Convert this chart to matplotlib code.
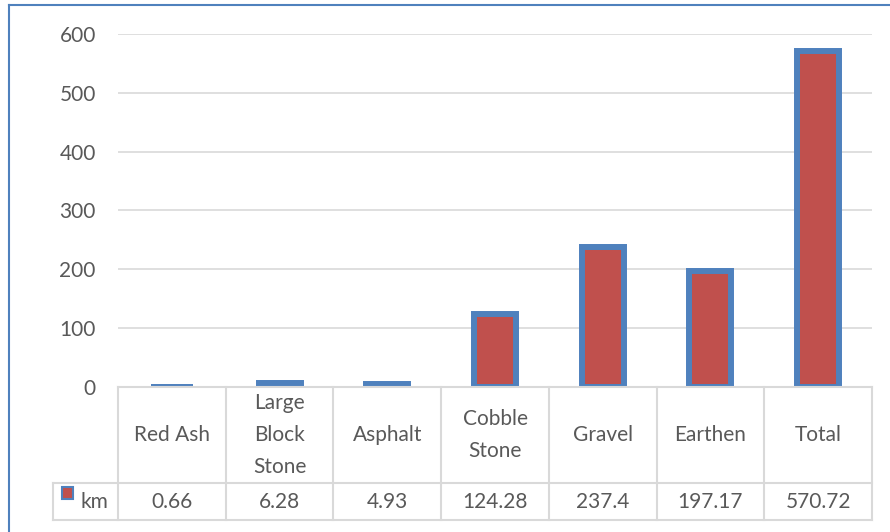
import matplotlib.pyplot as plt
from matplotlib.lines import Line2D
from matplotlib.patches import Rectangle

categories = ["Red Ash", "Large\nBlock\nStone", "Asphalt", "Cobble\nStone", "Gravel", "Earthen", "Total"]
km = [0.66, 6.28, 4.93, 124.28, 237.4, 197.17, 570.72]
value_labels = ["0.66", "6.28", "4.93", "124.28", "237.4", "197.17", "570.72"]
series_name = "km"
yticks = [0, 100, 200, 300, 400, 500, 600]

W, H = 890, 532
red = "#c0504d"
blue = "#4f81bd"
grey_txt = "#595959"
grid_c = "#d9d9d9"
plt.rcParams['font.family'] = ['Lato', 'DejaVu Sans']
fs = 15

fig = plt.figure(figsize=(W / 100, H / 100), dpi=100)

# plot area in pixels
x0, x1 = 118, 872
y_top, y_zero = 34, 387
ax = fig.add_axes([x0 / W, (H - y_zero) / H, (x1 - x0) / W, (y_zero - y_top) / H])
n = len(categories)
xs = list(range(n))
ax.bar(xs, km, width=0.39, color=red, edgecolor=blue, linewidth=4.3,
       joinstyle="miter", zorder=3)
ax.set_xlim(-0.5, n - 0.5)
ax.set_ylim(0, 600)
ax.set_yticks(yticks)
ax.set_yticklabels([str(t) for t in yticks], fontsize=fs, color=grey_txt)
ax.tick_params(axis="y", length=0, pad=16)
ax.set_xticks([])
ax.grid(axis="y", color=grid_c, linewidth=1.2, zorder=0)
for s in ax.spines.values():
    s.set_visible(False)

# overlay for table + border, in pixel units
ov = fig.add_axes([0, 0, 1, 1])
ov.set_xlim(0, W)
ov.set_ylim(H, 0)
ov.axis("off")

col_w = (x1 - x0) / n
lx = 53
row_mid = 483
row_bot = 520
lc = "#d9d9d9"
ov.add_line(Line2D([x0, x1], [y_zero, y_zero], color=lc, lw=1.5))
ov.add_line(Line2D([lx, x1], [row_mid, row_mid], color=lc, lw=1.5))
ov.add_line(Line2D([lx, x1], [row_bot, row_bot], color=lc, lw=1.5))
ov.add_line(Line2D([lx, lx], [row_mid, row_bot], color=lc, lw=1.5))
for i in range(n + 1):
    xc = x0 + i * col_w
    ov.add_line(Line2D([xc, xc], [y_zero, row_bot], color=lc, lw=1.5))

for i, (c, v) in enumerate(zip(categories, value_labels)):
    xc = x0 + (i + 0.5) * col_w
    ov.text(xc, (y_zero + row_mid) / 2, c, ha="center", va="center",
            fontsize=fs, color=grey_txt, linespacing=1.75)
    ov.text(xc, (row_mid + row_bot) / 2 + 1, v, ha="center", va="center",
            fontsize=fs, color=grey_txt)

# legend key
ov.add_patch(Rectangle((62, 487), 11, 12, facecolor=red, edgecolor=blue, lw=1.5))
ov.text(81, (row_mid + row_bot) / 2 + 1, series_name, ha="left", va="center",
        fontsize=fs, color=grey_txt)

# chart border
ov.add_line(Line2D([8.5, 8.5], [5, H], color=blue, lw=1.5))
ov.add_line(Line2D([8.5, W], [5, 5], color=blue, lw=1.5))

fig.savefig("out.png", dpi=100)
